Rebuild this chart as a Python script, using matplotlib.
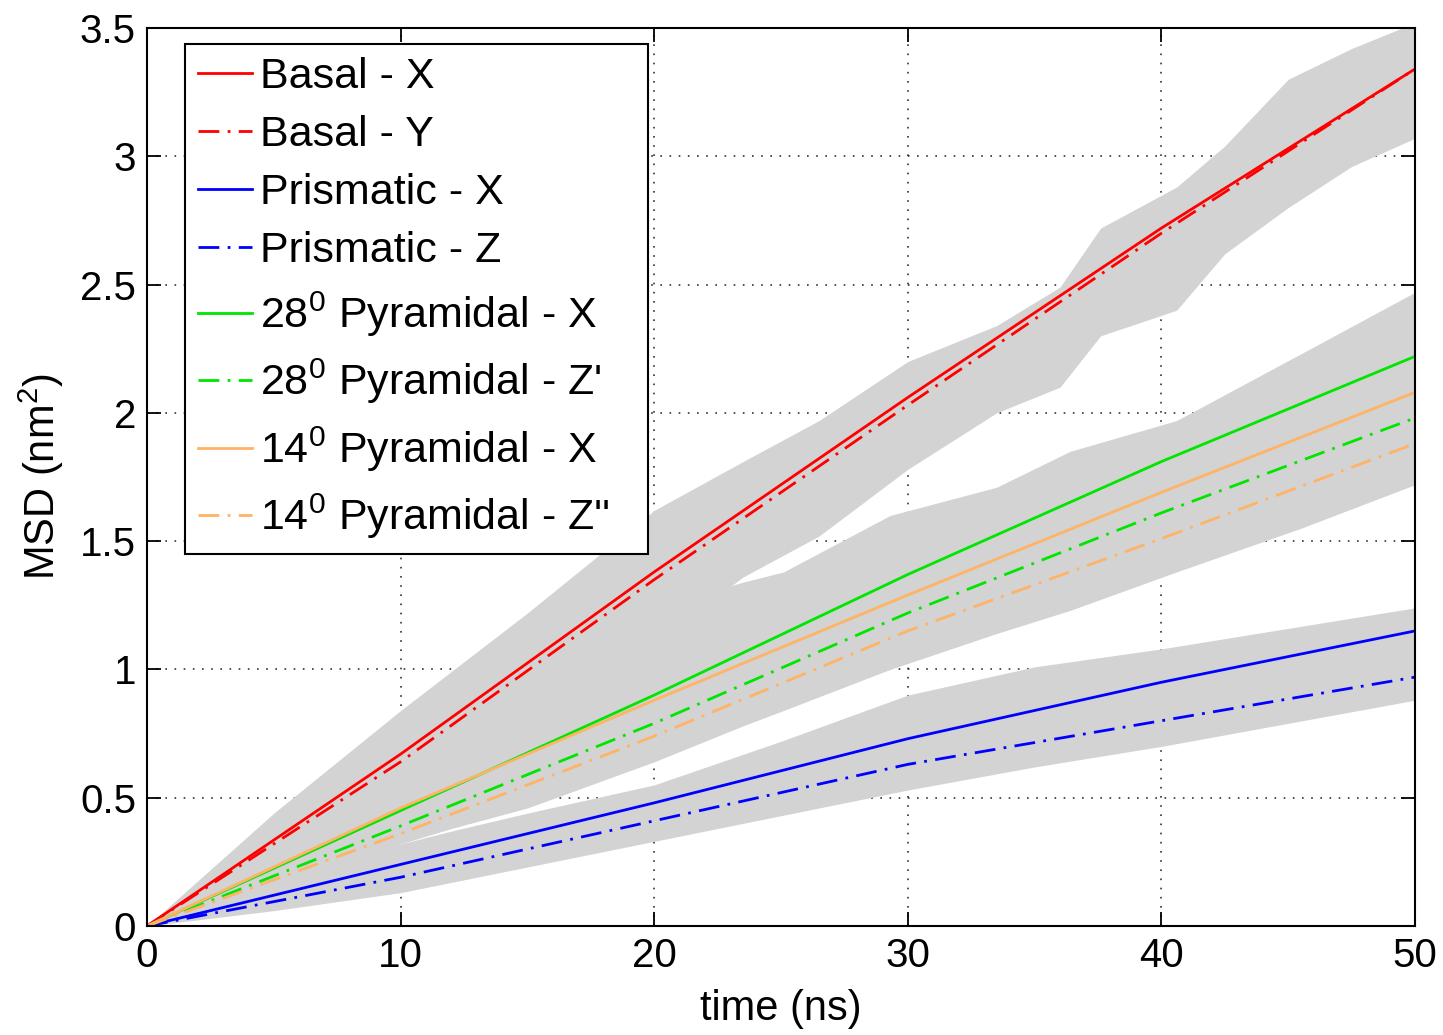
import numpy as np
import matplotlib.pyplot as plt

plt.rcParams['font.family'] = ['Liberation Sans', 'DejaVu Sans']
plt.rcParams['mathtext.fontset'] = 'custom'
plt.rcParams['mathtext.rm'] = 'Liberation Sans'
plt.rcParams['mathtext.default'] = 'regular'

# mean MSD curves (nm^2)
t = [0, 10, 20, 30, 40, 50]
basal_x = [0, 0.67, 1.38, 2.06, 2.72, 3.34]
basal_y = [0, 0.64, 1.35, 2.03, 2.70, 3.34]
prism_x = [0, 0.24, 0.48, 0.73, 0.95, 1.15]
prism_z = [0, 0.19, 0.41, 0.63, 0.80, 0.97]
pyr28_x = [0, 0.45, 0.90, 1.37, 1.81, 2.22]
pyr28_z = [0, 0.39, 0.79, 1.22, 1.61, 1.98]
pyr14_x = [0, 0.46, 0.88, 1.29, 1.69, 2.08]
pyr14_z = [0, 0.36, 0.74, 1.15, 1.51, 1.88]

# grey spread envelopes
t_basal_band = [0, 2.5, 5, 10, 15, 17.5, 20, 23.5, 26.5, 30, 33.5, 36, 37.6, 40.6, 42.5, 45, 47.5, 50]
basal_hi = [0, 0.22, 0.44, 0.84, 1.22, 1.42, 1.62, 1.81, 1.97, 2.20, 2.34, 2.49, 2.72, 2.88, 3.04, 3.30, 3.42, 3.52]
basal_lo = [0, 0.12, 0.22, 0.50, 0.80, 0.95, 1.10, 1.36, 1.52, 1.78, 2.00, 2.10, 2.30, 2.40, 2.62, 2.80, 2.96, 3.07]

t_pyr_band = [0, 5, 10, 12, 15, 17.5, 20, 23.5, 25.1, 29.3, 33.5, 36.4, 40.6, 45.5, 50]
pyr_hi = [0, 0.30, 0.62, 0.75, 0.92, 1.08, 1.24, 1.34, 1.38, 1.60, 1.71, 1.85, 1.97, 2.23, 2.47]
pyr_lo = [0, 0.15, 0.32, 0.38, 0.46, 0.55, 0.64, 0.78, 0.84, 1.00, 1.14, 1.23, 1.38, 1.55, 1.72]

t_prism_band = [0, 5, 10, 12, 15, 20, 25, 30, 35, 40, 45, 50]
prism_hi = [0, 0.18, 0.32, 0.37, 0.44, 0.55, 0.72, 0.90, 1.01, 1.08, 1.16, 1.24]
prism_lo = [0, 0.06, 0.13, 0.17, 0.23, 0.33, 0.43, 0.53, 0.62, 0.70, 0.79, 0.88]

grey = '#d3d3d3'
orange = '#ffb366'
green = '#00e600'
dashdot = (0, (7.5, 3.0, 1.0, 3.0))

fig = plt.figure(figsize=(14.43, 10.35), dpi=100)
ax = fig.add_axes([0.1019, 0.1053, 0.8787, 0.8677])

ax.fill_between(t_basal_band, basal_lo, basal_hi, color=grey, lw=0)
ax.fill_between(t_pyr_band, pyr_lo, pyr_hi, color=grey, lw=0)
ax.fill_between(t_prism_band, prism_lo, prism_hi, color=grey, lw=0)

lw = 2.0
ax.plot(t, basal_x, color='red', lw=lw, label='Basal - X')
ax.plot(t, basal_y, color='red', lw=lw, ls=dashdot, label='Basal - Y')
ax.plot(t, prism_x, color='blue', lw=lw, label='Prismatic - X')
ax.plot(t, prism_z, color='blue', lw=lw, ls=dashdot, label='Prismatic - Z')
ax.plot(t, pyr28_x, color=green, lw=lw, label='28$^{0}$ Pyramidal - X')
ax.plot(t, pyr28_z, color=green, lw=lw, ls=dashdot, label="28$^{0}$ Pyramidal - Z'")
ax.plot(t, pyr14_x, color=orange, lw=lw, label='14$^{0}$ Pyramidal - X')
ax.plot(t, pyr14_z, color=orange, lw=lw, ls=dashdot, label="14$^{0}$ Pyramidal - Z''")

ax.set_xlim(0, 50)
ax.set_ylim(0, 3.5)
ax.set_xticks([0, 10, 20, 30, 40, 50])
ax.set_yticks([0, 0.5, 1, 1.5, 2, 2.5, 3, 3.5])
ax.set_yticklabels(['0', '0.5', '1', '1.5', '2', '2.5', '3', '3.5'])

ax.set_axisbelow(True)
ax.grid(True, color='#333333', linestyle=(0, (1, 4.5)), linewidth=1.2)
ax.tick_params(direction='in', top=True, right=True, length=10, width=1.3,
               labelsize=29, pad=8)
for s in ax.spines.values():
    s.set_linewidth(1.5)

ax.set_xlabel('time (ns)', fontsize=30, labelpad=10)
ax.set_ylabel('MSD (nm$^2$)', fontsize=30, labelpad=10)

leg = ax.legend(loc='upper left', bbox_to_anchor=(0.030, 0.482, 0.365, 0.5),
                mode='expand', borderaxespad=0,
                fontsize=31, fancybox=False, framealpha=1, edgecolor='black',
                handlelength=1.25, handletextpad=0.2, labelspacing=0.42,
                borderpad=0.3)
leg.get_frame().set_linewidth(1.5)

fig.savefig('out.png', dpi=100)
